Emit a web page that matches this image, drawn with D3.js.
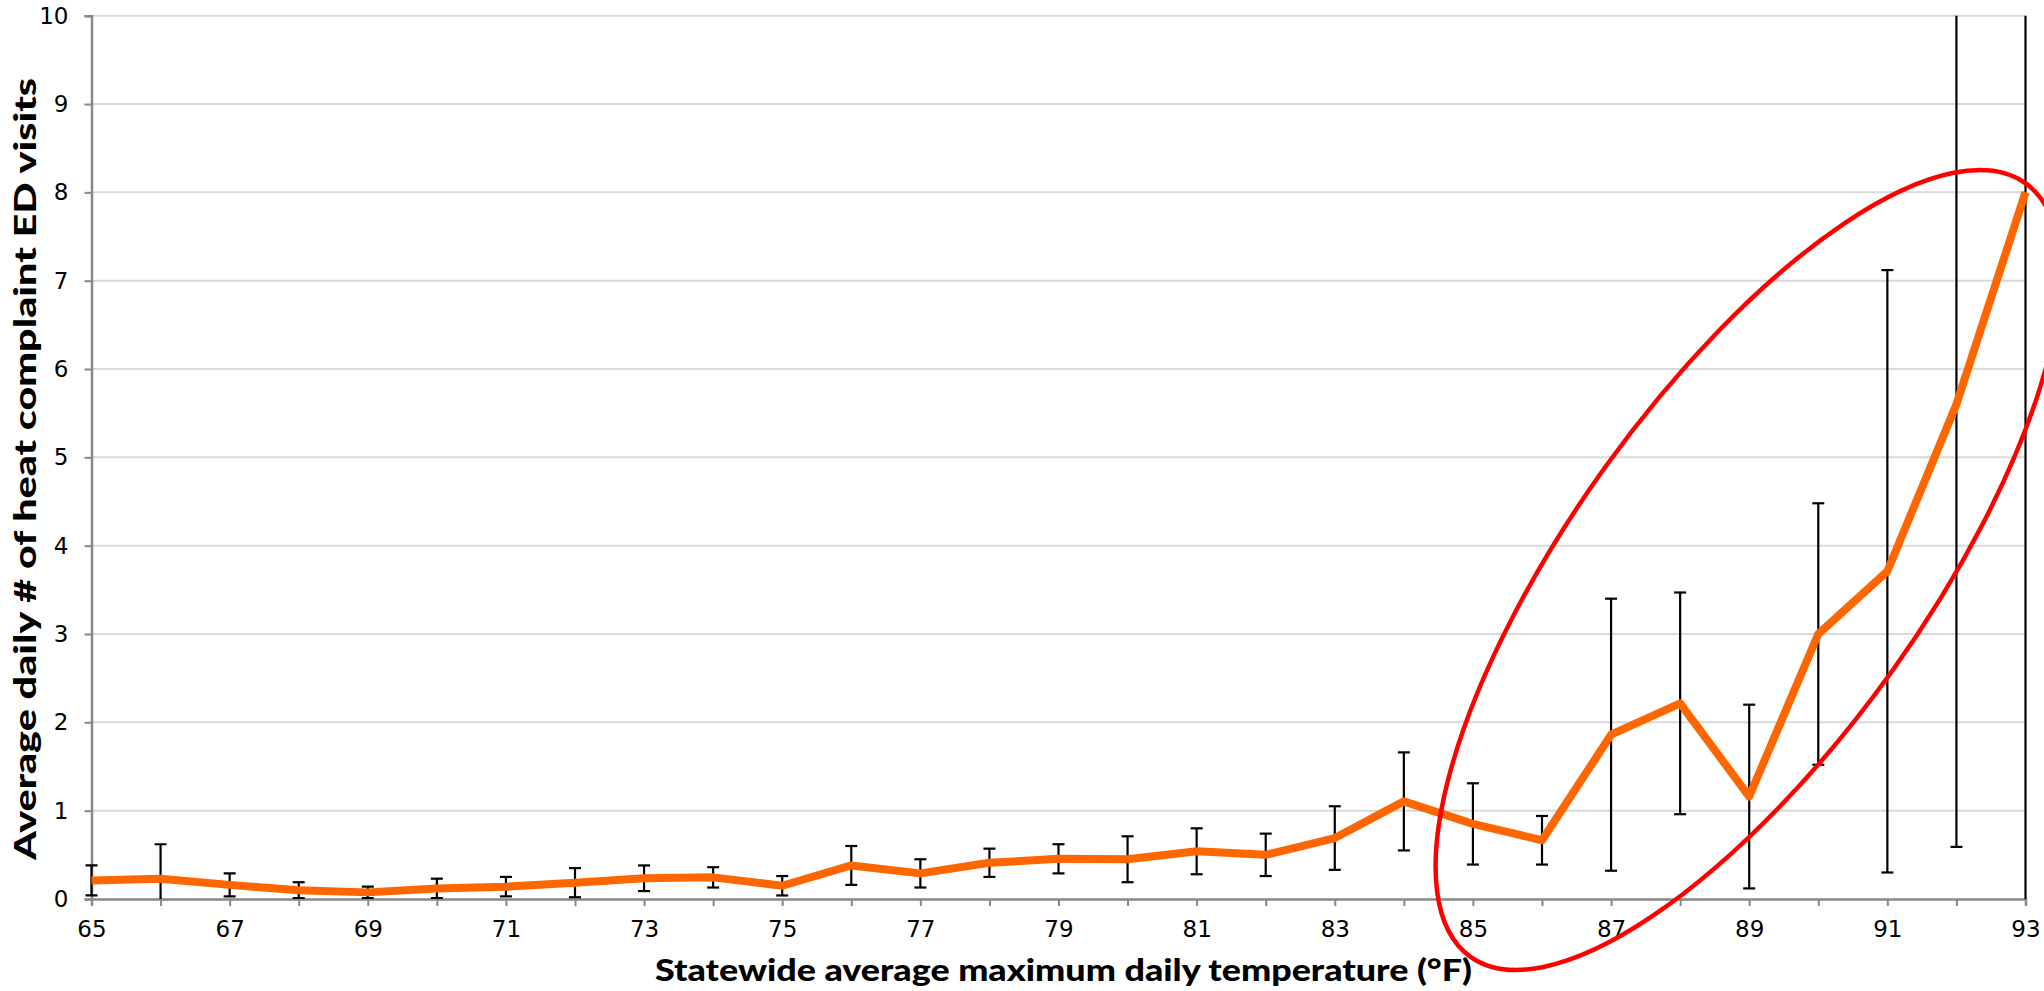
<!DOCTYPE html>
<html>

<head>
  <title>Heat complaint ED visits vs temperature</title>
  <script src="https://cdn.jsdelivr.net/npm/d3@7/dist/d3.min.js"></script>
  <style>
    body {
      margin: 0;
      background: #fff;
    }

    .tick text {
      font-family: "DejaVu Sans", Lato, sans-serif;
      font-size: 23px;
      fill: #000;
    }

    .axis-title {
      font-family: Lato, "Noto Sans", sans-serif;
      font-weight: 900;
      font-size: 30px;
      fill: #000;
    }
  </style>
</head>

<body>
  <svg id="chart" width="2044" height="991"></svg>

  <script type="text/javascript">
    // temperature bins (deg F)
    var temps = [65, 66, 67, 68, 69, 70, 71, 72, 73, 74, 75, 76, 77, 78, 79,
      80, 81, 82, 83, 84, 85, 86, 87, 88, 89, 90, 91, 92, 93];

    // average daily # of heat complaint ED visits
    var visits = [0.21, 0.23, 0.16, 0.10, 0.075, 0.12, 0.14, 0.185, 0.235, 0.245,
      0.15, 0.38, 0.29, 0.41, 0.455, 0.45, 0.54, 0.50, 0.69, 1.105,
      0.85, 0.665, 1.86, 2.215, 1.16, 3.0, 3.71, 5.60, 8.0];

    // error bar half widths
    var errors = [0.17, 0.39, 0.13, 0.09, 0.065, 0.11, 0.11, 0.165, 0.145, 0.115,
      0.11, 0.22, 0.16, 0.16, 0.165, 0.26, 0.26, 0.24, 0.36, 0.555,
      0.46, 0.275, 1.54, 1.255, 1.04, 1.48, 3.41, 5.01, 8.6];

    var xTickLabels = [65, 67, 69, 71, 73, 75, 77, 79, 81, 83, 85, 87, 89, 91, 93];
    var yTickLabels = [0, 1, 2, 3, 4, 5, 6, 7, 8, 9, 10];

    var svg = d3.select('#chart'),
      width = +svg.attr('width'),
      height = +svg.attr('height');

    var margin = { top: 15.7, right: 18.5, bottom: 92, left: 91.5 };
    var innerW = width - margin.left - margin.right,
      innerH = height - margin.top - margin.bottom;

    var x = d3.scaleLinear().domain([65, 93]).range([0, innerW]);
    var y = d3.scaleLinear().domain([0, 10]).range([innerH, 0]);

    var g = svg.append('g')
      .attr('transform', 'translate(' + margin.left + ',' + margin.top + ')');

    svg.append('defs').append('clipPath')
      .attr('id', 'plot-clip')
      .append('rect')
      .attr('x', -10)
      .attr('y', 0)
      .attr('width', innerW + 20)
      .attr('height', innerH);

    // gridlines
    g.append('g')
      .selectAll('line')
      .data(yTickLabels.filter(d => d > 0))
      .enter()
      .append('line')
      .attr('x1', 0)
      .attr('x2', innerW)
      .attr('y1', d => y(d))
      .attr('y2', d => y(d))
      .attr('stroke', '#d9d9d9')
      .attr('stroke-width', 2);

    // x axis
    var xAxis = g.append('g')
      .attr('transform', 'translate(0,' + innerH + ')')
      .call(d3.axisBottom(x)
        .tickValues(temps)
        .tickSize(7)
        .tickPadding(15)
        .tickFormat(d => xTickLabels.indexOf(d) >= 0 ? d : ''));
    xAxis.select('.domain').attr('stroke', '#888').attr('stroke-width', 2.5);
    xAxis.selectAll('.tick line').attr('stroke', '#888').attr('stroke-width', 2);

    // y axis
    var yAxis = g.append('g')
      .call(d3.axisLeft(y)
        .tickValues(yTickLabels)
        .tickSize(7)
        .tickPadding(16)
        .tickFormat(d3.format('d')));
    yAxis.select('.domain').attr('stroke', '#888').attr('stroke-width', 2.5);
    yAxis.selectAll('.tick line').attr('stroke', '#888').attr('stroke-width', 2);

    // error bars
    var bars = g.append('g')
      .attr('clip-path', 'url(#plot-clip)')
      .attr('stroke', '#000')
      .attr('stroke-width', 2.2);

    temps.forEach(function (t, i) {
      var lo = visits[i] - errors[i],
        hi = visits[i] + errors[i];
      bars.append('line')
        .attr('x1', x(t)).attr('x2', x(t))
        .attr('y1', y(lo)).attr('y2', y(hi));
      [lo, hi].forEach(function (v) {
        bars.append('line')
          .attr('x1', x(t) - 6).attr('x2', x(t) + 6)
          .attr('y1', y(v)).attr('y2', y(v));
      });
    });

    // mean line
    var line = d3.line()
      .x((d, i) => x(temps[i]))
      .y(d => y(d));

    g.append('path')
      .datum(visits)
      .attr('d', line)
      .attr('fill', 'none')
      .attr('stroke', '#ff6600')
      .attr('stroke-width', 8)
      .attr('stroke-linejoin', 'round');

    // axis titles
    svg.append('text')
      .attr('class', 'axis-title')
      .attr('x', margin.left + innerW / 2 + 5)
      .attr('y', 981)
      .attr('text-anchor', 'middle')
      .attr('textLength', 817)
      .attr('lengthAdjust', 'spacingAndGlyphs')
      .text('Statewide average maximum daily temperature (\u00B0F)');

    svg.append('text')
      .attr('class', 'axis-title')
      .attr('transform', 'translate(36,' + 469 + ') rotate(-90)')
      .attr('text-anchor', 'middle')
      .attr('textLength', 782)
      .attr('lengthAdjust', 'spacingAndGlyphs')
      .text('Average daily # of heat complaint ED visits');

    // red highlight ellipse around the hot days
    svg.append('ellipse')
      .attr('cx', 0)
      .attr('cy', 0)
      .attr('rx', 476)
      .attr('ry', 176)
      .attr('transform', 'translate(1748,570) rotate(-54.3)')
      .attr('fill', 'none')
      .attr('stroke', '#ff0000')
      .attr('stroke-width', 4.5);
  </script>
</body>

</html>
